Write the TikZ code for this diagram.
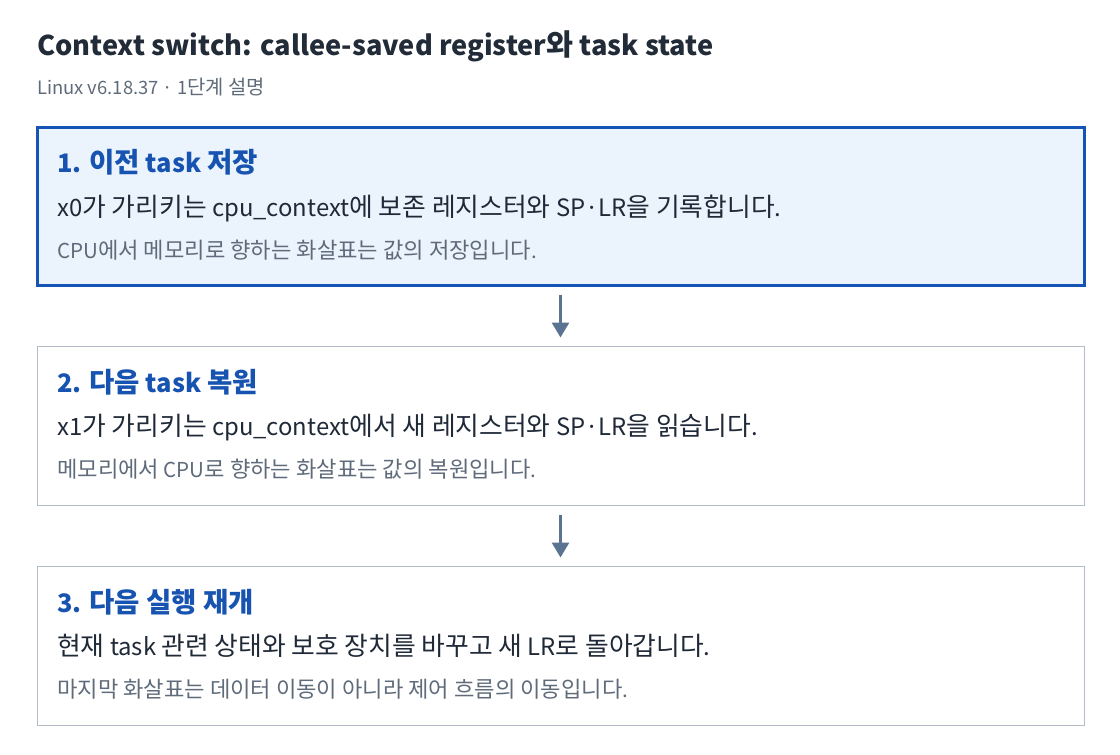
\documentclass[tikz,border=0pt]{standalone}
\usepackage{fontspec}
\setmainfont{Noto Sans CJK KR}
\newfontfamily\kofont[Scale=1.08]{Noto Sans CJK KR}
\newcommand{\ko}[1]{{\kofont #1}}
\usetikzlibrary{arrows.meta}
\usetikzlibrary{positioning}
\definecolor{titleink}{HTML}{222B38}
\definecolor{subink}{HTML}{5F6B7A}
\definecolor{headink}{HTML}{1753B0}
\definecolor{bodyink}{HTML}{1F2937}
\definecolor{curline}{HTML}{1553B5}
\definecolor{curfill}{HTML}{EBF3FD}
\definecolor{boxline}{HTML}{B3BCC8}
\definecolor{arrowink}{HTML}{5A7392}
\tikzset{
    stepbox/.style = {
        rectangle,
        minimum width=785.25pt,
        minimum height=119.25pt,
        outer sep=0pt,
        line width=0.75pt,
        draw=boxline,
        fill=white,
    },
    current/.style = {
        minimum height=118.5pt,
        line width=2.25pt,
        draw=curline,
        fill=curfill,
    },
    heading/.style = {
        anchor=base west,
        inner sep=0pt,
        text=headink,
        font=\bfseries\fontsize{19.1pt}{23pt}\selectfont,
    },
    body/.style = {
        anchor=base west,
        inner sep=0pt,
        text=bodyink,
        font=\fontsize{17.9pt}{21pt}\selectfont,
    },
    note/.style = {
        anchor=base west,
        inner sep=0pt,
        text=subink,
        font=\fontsize{15.4pt}{18pt}\selectfont,
    },
}
\tikzstyle{arrow} = [line width=2.25pt, draw=arrowink, -{Triangle[width=12.75pt,length=11.25pt]}]

\begin{document}
\begin{tikzpicture}[x=0.75pt, y=0.75pt]
        \useasboundingbox (0,0) rectangle (1120,-754);

        \node(title) [anchor=base west, inner sep=0pt, text=titleink,
            font=\bfseries\fontsize{20.4pt}{24pt}\selectfont] at (37,-55)
        {Context switch: callee-saved register\ko{와} task state};
        \node(subtitle) [note, font=\fontsize{13.8pt}{17pt}\selectfont] at (37,-94)
        {Linux v6.18.37 · 1\ko{단계 설명}};

        \node(step1) [stepbox, current, anchor=north west] at (37,-127.5) {};
        \node(step2) [stepbox, below = 45.75pt of step1] {};
        \node(step3) [stepbox, below = 45.75pt of step2] {};

        \node(head1) [heading] at ([shift={(20,-45)}]step1.north west)
        {1. \ko{이전} task \ko{저장}};
        \node(body1) [body] at ([shift={(20,-88.5)}]step1.north west)
        {x0\ko{가 가리키는} cpu\_context\ko{에 보존 레지스터와} SP·LR\ko{을 기록합니다}.};
        \node(note1) [note] at ([shift={(20,-130.5)}]step1.north west)
        {CPU\ko{에서 메모리로 향하는 화살표는 값의 저장입니다}.};

        \node(head2) [heading] at ([shift={(20,-45.5)}]step2.north west)
        {2. \ko{다음} task \ko{복원}};
        \node(body2) [body] at ([shift={(20,-89)}]step2.north west)
        {x1\ko{가 가리키는} cpu\_context\ko{에서 새 레지스터와} SP·LR\ko{을 읽습니다}.};
        \node(note2) [note] at ([shift={(20,-131)}]step2.north west)
        {\ko{메모리에서} CPU\ko{로 향하는 화살표는 값의 복원입니다}.};

        \node(head3) [heading] at ([shift={(20,-45.5)}]step3.north west)
        {3. \ko{다음 실행 재개}};
        \node(body3) [body] at ([shift={(20,-89)}]step3.north west)
        {\ko{현재} task \ko{관련 상태와 보호 장치를 바꾸고 새} LR\ko{로 돌아갑니다}.};
        \node(note3) [note] at ([shift={(20,-131)}]step3.north west)
        {\ko{마지막 화살표는 데이터 이동이 아니라 제어 흐름의 이동입니다}.};

        \draw [arrow, shorten <=7pt, shorten >=6.75pt] (step1) -- (step2);
        \draw [arrow, shorten <=7pt, shorten >=6.75pt] (step2) -- (step3);

    \end{tikzpicture}
\end{document}
